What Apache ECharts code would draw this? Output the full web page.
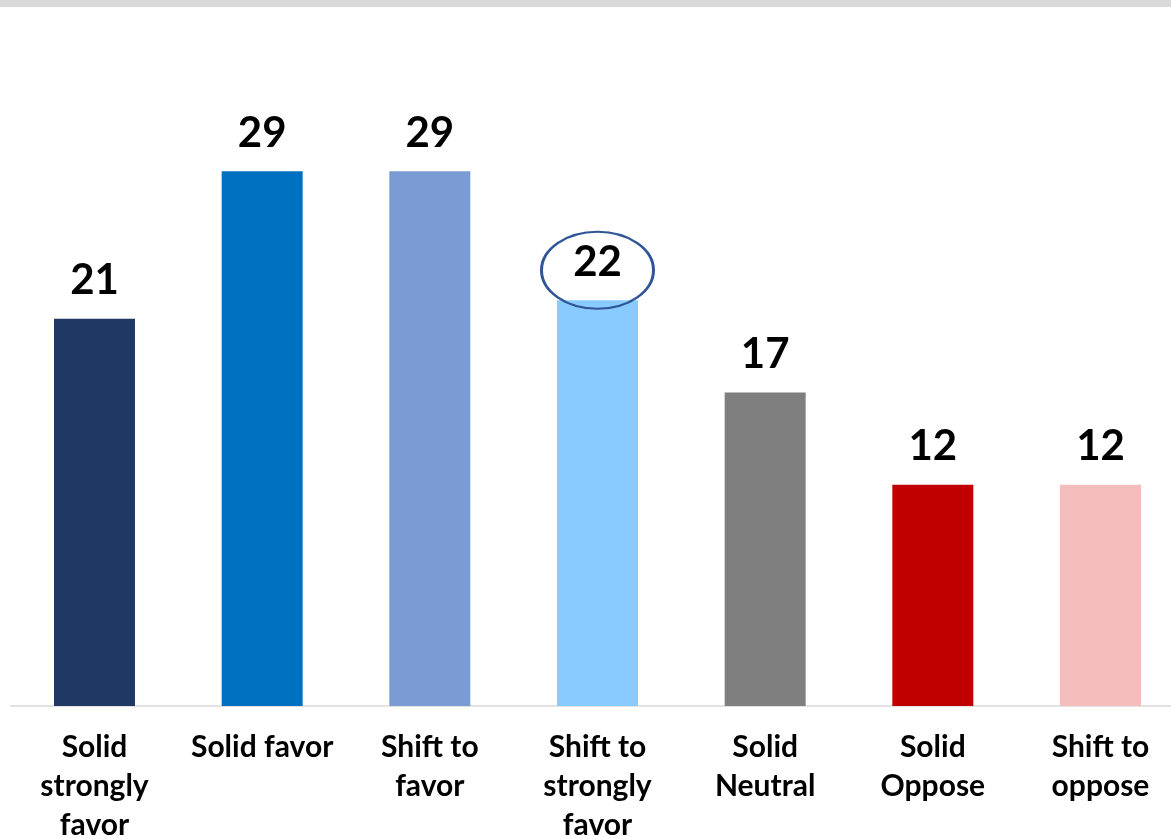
<!DOCTYPE html>
<html>
<head>
<meta charset="utf-8">
<script src="https://cdn.jsdelivr.net/npm/echarts@6/dist/echarts.min.js"></script>
<style>
html,body{margin:0;padding:0;background:#fff;}
#c{width:1171px;height:839px;}
</style>
</head>
<body>
<div id="c"></div>
<script>
const categories = ['Solid strongly favor', 'Solid favor', 'Shift to favor', 'Shift to strongly favor', 'Solid Neutral', 'Solid Oppose', 'Shift to oppose'];
const tickLabels = ['Solid\nstrongly\nfavor', 'Solid favor', 'Shift to\nfavor', 'Shift to\nstrongly\nfavor', 'Solid\nNeutral', 'Solid\nOppose', 'Shift to\noppose'];
const values = [21, 29, 29, 22, 17, 12, 12];
const colors = ['#203864', '#0070c0', '#7b9bd4', '#89cbff', '#7f7f7f', '#c00000', '#f2bdbb'];
const highlightIndex = 3;

const FONT = 'Lato, "Open Sans", sans-serif';
const chart = echarts.init(document.getElementById('c'), null, {renderer: 'canvas'});
chart.setOption({
  animation: false,
  backgroundColor: '#ffffff',
  graphic: [{
    type: 'rect', left: 0, top: 0,
    shape: {width: 1171, height: 7},
    style: {fill: '#d9d9d9'}
  }],
  grid: {left: 10.67, right: -13.33, top: 60.6, bottom: 133, containLabel: false, outerBoundsMode: 'none'},
  xAxis: {
    type: 'category',
    data: categories,
    axisLine: {show: true, lineStyle: {color: '#d9d9d9', width: 1.5}},
    axisTick: {show: false},
    axisLabel: {
      interval: 0,
      margin: 22,
      color: '#000',
      fontFamily: FONT,
      fontWeight: 'bold',
      fontSize: 30,
      lineHeight: 39,
      formatter: (v, i) => tickLabels[i]
    }
  },
  yAxis: {
    type: 'value', min: 0, max: 35,
    show: false,
    splitLine: {show: false}
  },
  series: [{
    type: 'bar',
    barWidth: 81,
    data: values.map((v, i) => ({value: v, itemStyle: {color: colors[i]}})),
    label: {
      show: true, position: 'top', distance: 17,
      color: '#000', fontFamily: FONT, fontWeight: 'bold', fontSize: 42
    },
    markPoint: {
      silent: true,
      symbol: 'path://M0,50 A50,50 0 1,1 100,50 A50,50 0 1,1 0,50 Z',
      symbolSize: [112, 77],
      symbolOffset: [0, -30],
      symbolKeepAspect: false,
      itemStyle: {color: 'rgba(0,0,0,0)', borderColor: '#2f5597', borderWidth: 2.5},
      label: {show: false},
      data: [{coord: [highlightIndex, values[highlightIndex]]}]
    }
  }]
});
</script>
</body>
</html>
